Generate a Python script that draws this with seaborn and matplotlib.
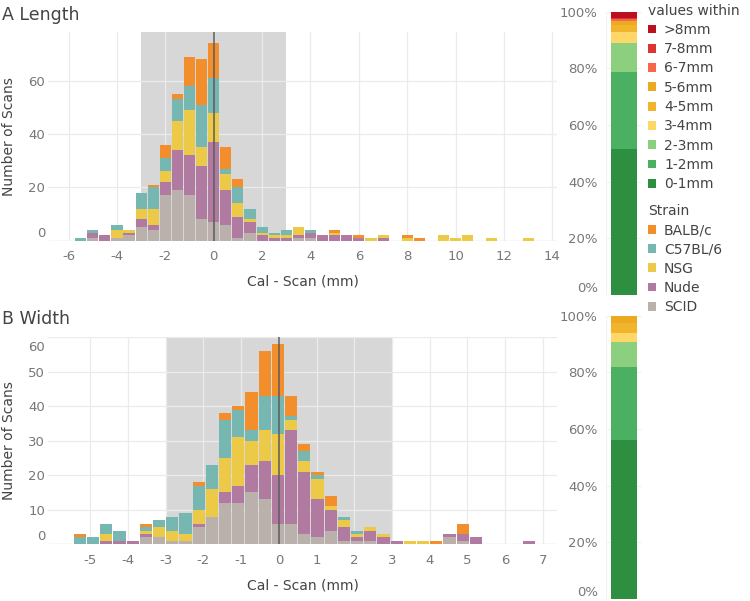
import numpy as np
import pandas as pd
import matplotlib
matplotlib.use('Agg')
import matplotlib.pyplot as plt
import matplotlib.transforms as mtransforms
from matplotlib.patches import Patch
import seaborn as sns

# --- data ---
strains = ['BALB/c', 'C57BL/6', 'NSG', 'Nude', 'SCID']
strain_colors = ['#f28e2b', '#76b7b2', '#edc948', '#b07aa1', '#bab0ac']

dist_labels = ['>8mm', '7-8mm', '6-7mm', '5-6mm', '4-5mm', '3-4mm', '2-3mm', '1-2mm', '0-1mm']
dist_colors = ['#bb111e', '#dc3430', '#f5694a', '#ecaa22', '#f1b52d', '#fdd868',
               '#8ccf7e', '#4cb062', '#2f8f41']

# A Length: bin centres (0.5 mm bins) and stacked counts per strain
len_centers = [-5.5, -5.0, -4.5, -4.0, -3.5, -3.0, -2.5, -2.0, -1.5, -1.0, -0.5, 0.0,
               0.5, 1.0, 1.5, 2.0, 2.5, 3.0, 3.5, 4.0, 4.5, 5.0, 5.5, 6.0, 6.5, 7.0,
               8.0, 8.5, 9.5, 10.0, 10.5, 11.5, 13.0]
len_balbc = [0, 0, 0, 0, 0, 0, 1, 5, 2, 11, 17, 13, 8, 3, 0, 0, 0, 0, 0, 0, 0, 1, 0, 1, 0, 0,
             1, 1, 0, 0, 0, 0, 0]
len_c57 = [1, 1, 0, 2, 0, 6, 8, 5, 8, 9, 16, 13, 2, 6, 4, 2, 1, 2, 0, 1, 0, 0, 0, 0, 0, 0,
           0, 0, 0, 0, 0, 0, 0]
len_nsg = [0, 0, 0, 3, 1, 4, 6, 4, 11, 17, 7, 11, 6, 5, 1, 1, 1, 1, 3, 0, 0, 1, 0, 0, 1, 1,
           1, 0, 2, 1, 2, 1, 1]
len_nude = [0, 2, 2, 0, 1, 3, 2, 5, 15, 15, 20, 30, 13, 8, 4, 2, 1, 1, 1, 2, 2, 2, 2, 1, 0, 1,
            0, 0, 0, 0, 0, 0, 0]
len_scid = [0, 1, 0, 1, 2, 5, 4, 17, 19, 17, 8, 7, 6, 1, 3, 0, 0, 0, 1, 1, 0, 0, 0, 0, 0, 0,
            0, 0, 0, 0, 0, 0, 0]

# B Width: bin centres (0.35 mm bins)
wid_centers = [-5.275, -4.925, -4.575, -4.225, -3.875, -3.525, -3.175, -2.825, -2.475,
               -2.125, -1.775, -1.425, -1.075, -0.725, -0.375, -0.025, 0.325, 0.675,
               1.025, 1.375, 1.725, 2.075, 2.425, 2.775, 3.125, 3.475, 3.825, 4.175,
               4.525, 4.875, 5.225, 6.625]
wid_balbc = [1, 0, 0, 0, 0, 1, 0, 0, 0, 1, 0, 2, 1, 11, 13, 15, 6, 2, 1, 3, 0, 0, 0, 0,
             0, 0, 0, 1, 0, 3, 0, 0]
wid_c57 = [2, 2, 3, 3, 0, 1, 2, 4, 6, 7, 7, 11, 8, 3, 10, 11, 1, 3, 1, 0, 1, 1, 0, 0,
           0, 0, 0, 0, 0, 0, 0, 0]
wid_nsg = [0, 0, 2, 0, 0, 1, 3, 3, 2, 4, 8, 10, 14, 7, 9, 12, 3, 3, 6, 1, 2, 1, 1, 1,
           0, 1, 1, 0, 0, 0, 0, 0]
wid_nude = [0, 0, 1, 1, 1, 1, 0, 0, 0, 1, 0, 3, 5, 8, 11, 14, 27, 18, 11, 6, 4, 1, 3, 2,
            1, 0, 0, 0, 1, 2, 2, 1]
wid_scid = [0, 0, 0, 0, 0, 2, 2, 1, 1, 5, 8, 12, 12, 15, 13, 6, 6, 3, 2, 4, 1, 1, 1, 0,
            0, 0, 0, 0, 2, 1, 0, 0]

# share of scans within each distance band (%), order 0-1mm ... >8mm
len_within = [51.6, 27.3, 10.0, 3.9, 2.5, 1.6, 0.4, 0.4, 2.3]
wid_within = [56.1, 25.9, 8.8, 3.2, 3.5, 2.5, 0.0, 0.0, 0.0]

TXT = '#444444'
TICK = '#777777'

sns.set_theme(style='white')
plt.rcParams['font.family'] = ['DejaVu Sans']

fig = plt.figure(figsize=(7.5, 6.01), dpi=100)


def long_df(centers, balbc, c57, nsg, nude, scid):
    parts = []
    for name, vals in zip(strains, [balbc, c57, nsg, nude, scid]):
        parts.append(pd.DataFrame({'diff': centers, 'count': vals, 'strain': name}))
    return pd.concat(parts).reset_index(drop=True)


def shift_label(tick, px):
    tick.label1.set_transform(tick.label1.get_transform() +
                              mtransforms.ScaledTranslation(0, px / 100, fig.dpi_scale_trans))


def hist_panel(rect, df, edges, xlim, ylim, xticks, yticks):
    ax = fig.add_axes(rect)
    ax.axvspan(-3, 3, color='#d7d7d7', lw=0, zorder=0)
    ax.set_axisbelow(True)
    ax.grid(True, color='#ebebeb', lw=0.9)
    sns.histplot(data=df, x='diff', weights='count', hue='strain', hue_order=strains,
                 palette=dict(zip(strains, strain_colors)), multiple='stack',
                 bins=list(edges), shrink=0.92, linewidth=0, alpha=1, legend=False, ax=ax)
    ax.axhline(0, color='#dddddd', lw=0.9, zorder=0.6)
    ax.axvline(0, color='#5c5c5c', lw=1.1, zorder=5)
    ax.set(xlim=xlim, ylim=ylim, xticks=xticks, yticks=yticks)
    ax.set_xticklabels([str(t) for t in xticks])
    sns.despine(ax=ax, left=True, bottom=True)
    ax.tick_params(length=0, labelsize=9.5, labelcolor=TICK)
    ax.tick_params(axis='x', pad=7)
    ax.tick_params(axis='y', pad=2)
    ax.set_xlabel('Cal - Scan (mm)', fontsize=10, color=TXT, labelpad=8)
    ax.set_ylabel('Number of Scans', fontsize=10, color=TXT)
    ax.yaxis.set_label_coords(-0.063, 0.5)
    shift_label(ax.yaxis.get_major_ticks()[0], 9)
    return ax


def strip_panel(rect, within):
    ax = fig.add_axes(rect)
    ax.set_axisbelow(True)
    ax.grid(True, axis='y', color='#f1f1f1', lw=0.8)
    ax.axvline(0, color='#f1f1f1', lw=0.8)
    bottom = 0
    for val, col in zip(within, dist_colors[::-1]):
        ax.bar(0.5, val, bottom=bottom, width=0.7, color=col, linewidth=0)
        bottom += val
    ax.set(xlim=(0, 1), ylim=(0, 100), xticks=[], yticks=[0, 20, 40, 60, 80, 100])
    ax.set_yticklabels(['{}%'.format(v) for v in [0, 20, 40, 60, 80, 100]])
    sns.despine(ax=ax, left=True, bottom=True)
    ax.tick_params(length=0, labelsize=9.5, labelcolor=TICK, pad=6)
    shift_label(ax.yaxis.get_major_ticks()[0], 8)
    return ax


len_df = long_df(len_centers, len_balbc, len_c57, len_nsg, len_nude, len_scid)
wid_df = long_df(wid_centers, wid_balbc, wid_c57, wid_nsg, wid_nude, wid_scid)

ax1 = hist_panel([0.064, 0.5995, 0.679, 0.348], len_df, np.linspace(-5.75, 13.25, 39),
                 (-6.85, 14.2), (0, 78.4), list(range(-6, 15, 2)), [0, 20, 40, 60])
ax2 = hist_panel([0.064, 0.0943, 0.679, 0.345], wid_df, np.linspace(-5.45, 6.8, 36),
                 (-6.12, 7.38), (0, 60), list(range(-5, 8)), [0, 10, 20, 30, 40, 50, 60])
shift_label(ax2.yaxis.get_major_ticks()[-1], -9)

strip_panel([0.808, 0.509, 0.048, 0.4715], len_within)
strip_panel([0.808, 0.0033, 0.048, 0.4714], wid_within)

fig.text(0.003, 0.975, 'A Length', fontsize=12.5, color=TXT, va='center')
fig.text(0.003, 0.469, 'B Width', fontsize=12.5, color=TXT, va='center')

# legends
leg_kw = dict(loc='upper left', frameon=False, borderpad=0, borderaxespad=0,
              handlelength=0.6, handleheight=0.6, handletextpad=0.55, labelspacing=0.38,
              alignment='left', fontsize=10, title_fontsize=10, labelcolor=TXT)
leg1 = fig.legend([Patch(facecolor=c, edgecolor='none') for c in dist_colors], dist_labels,
                  title='values within', bbox_to_anchor=(0.864, 0.994), **leg_kw)
leg1.get_title().set_color(TXT)
leg2 = fig.legend([Patch(facecolor=c, edgecolor='none') for c in strain_colors], strains,
                  title='Strain', bbox_to_anchor=(0.864, 0.661), **leg_kw)
leg2.get_title().set_color(TXT)

fig.savefig('out.png', dpi=100)
